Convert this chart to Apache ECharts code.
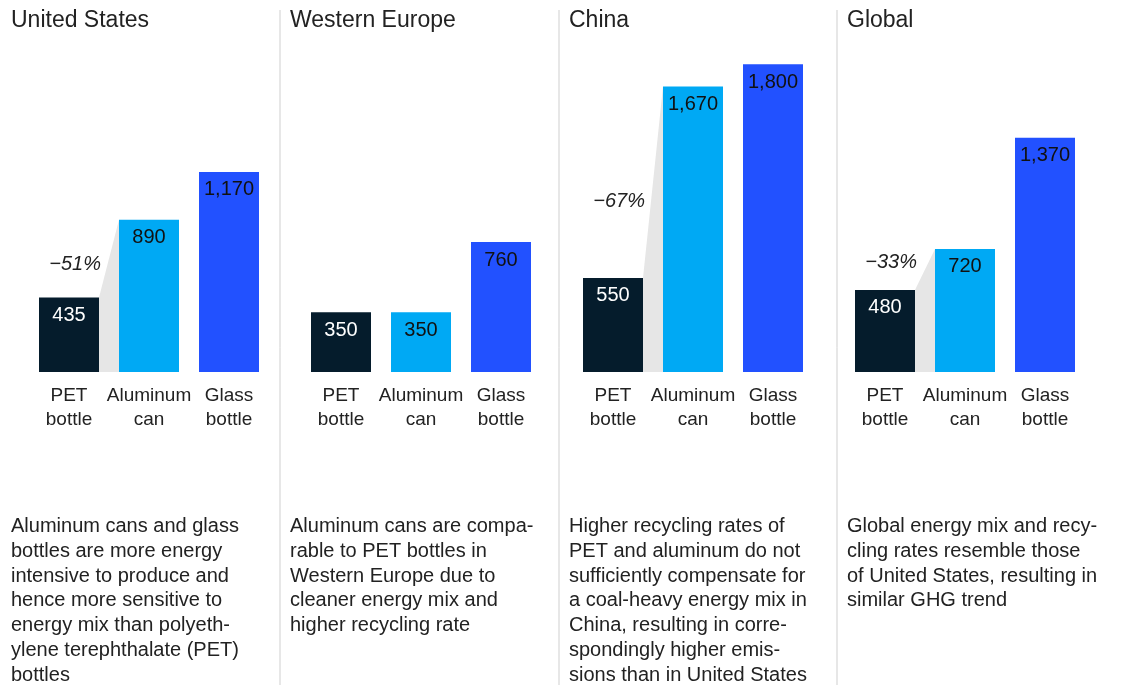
<!DOCTYPE html>
<html><head><meta charset="utf-8">
<script src="https://cdn.jsdelivr.net/npm/echarts@6/dist/echarts.min.js"></script>
<style>html,body{margin:0;padding:0;background:#fff}#c{width:1121px;height:685px}</style>
</head><body><div id="c"></div>
<script>
const regions = ['United States', 'Western Europe', 'China', 'Global'];
const categories = ['PET\nbottle', 'Aluminum\ncan', 'Glass\nbottle'];
const petValues = [435, 350, 550, 480];
const aluminumValues = [890, 350, 1670, 720];
const glassValues = [1170, 760, 1800, 1370];
const changeLabels = ['−51%', '', '−67%', '−33%'];
const notes = [
  'Aluminum cans and glass\nbottles are more energy\nintensive to produce and\nhence more sensitive to\nenergy mix than polyeth-\nylene terephthalate (PET)\nbottles',
  'Aluminum cans are compa-\nrable to PET bottles in\nWestern Europe due to\ncleaner energy mix and\nhigher recycling rate',
  'Higher recycling rates of\nPET and aluminum do not\nsufficiently compensate for\na coal-heavy energy mix in\nChina, resulting in corre-\nspondingly higher emis-\nsions than in United States',
  'Global energy mix and recy-\ncling rates resemble those\nof United States, resulting in\nsimilar GHG trend'
];

const FONT = '"Liberation Sans", Arial, sans-serif';
const colors = ['#051c2c', '#00a9f4', '#2251ff'];
const labelColors = ['#ffffff', '#111111', '#111111'];
const gridLefts = [29, 301, 573, 845];
const panelLefts = [11, 290, 569, 847];
const dividers = [280, 559, 837];
const pctOffsets = [33, 0, 77, 27];

const fmt = v => v.toLocaleString('en-US');
const chart = echarts.init(document.getElementById('c'), null, {renderer: 'canvas'});

const grids = [], xAxes = [], yAxes = [], series = [];
regions.forEach((r, i) => {
  grids.push({left: gridLefts[i], top: 30, width: 240, height: 342});
  xAxes.push({type: 'category', gridIndex: i, data: categories,
    axisLine: {show: false}, axisTick: {show: false},
    axisLabel: {color: '#222', fontFamily: FONT, fontSize: 19, lineHeight: 24, margin: 12, interval: 0}});
  yAxes.push({type: 'value', gridIndex: i, min: 0, max: 2000, show: false, splitLine: {show: false}});
  const vals = [petValues[i], aluminumValues[i], glassValues[i]];
  if (changeLabels[i]) {
    series.push({
      type: 'custom', xAxisIndex: i, yAxisIndex: i, z: 1, silent: true,
      data: [[petValues[i], aluminumValues[i], i]],
      renderItem: function (params, api) {
        const p = api.value(0), a = api.value(1), idx = api.value(2);
        const half = api.size([1, 0])[0] * 0.375;
        const p0 = api.coord([0, p]), a0 = api.coord([1, a]);
        const b0 = api.coord([0, 0]), b1 = api.coord([1, 0]);
        return {type: 'group', children: [
          {type: 'polygon', shape: {points: [
            [p0[0] + half, p0[1]], [a0[0] - half, a0[1]], [b1[0] - half, b1[1]], [b0[0] + half, b0[1]]]},
            style: {fill: '#e6e6e6'}},
          {type: 'text', x: p0[0] + half + 2, y: p0[1] - pctOffsets[idx],
            style: {text: changeLabels[idx], fill: '#222', font: 'italic 20px ' + FONT,
              align: 'right', verticalAlign: 'middle'}}
        ]};
      }
    });
  }
  series.push({
    type: 'bar', xAxisIndex: i, yAxisIndex: i, barWidth: 60, z: 2,
    data: vals.map((v, k) => ({value: v, itemStyle: {color: colors[k]},
      label: {color: labelColors[k]}})),
    label: {show: true, position: 'insideTop', distance: 8, fontFamily: FONT, fontSize: 20,
      formatter: p => fmt(p.value)}
  });
});

const graphics = [];
dividers.forEach(x => graphics.push({type: 'line', shape: {x1: x, y1: 10, x2: x, y2: 685},
  style: {stroke: '#cfcfcf', lineWidth: 1}}));
regions.forEach((r, i) => {
  graphics.push({type: 'text', left: panelLefts[i], top: 9,
    style: {text: r, fill: '#222', font: '23px ' + FONT}});
  graphics.push({type: 'text', left: panelLefts[i], top: 514,
    style: {text: notes[i], fill: '#222', font: '20px ' + FONT, lineHeight: 24.8}});
});

chart.setOption({
  animation: false,
  grid: grids, xAxis: xAxes, yAxis: yAxes, series: series, graphic: graphics
});
</script></body></html>
